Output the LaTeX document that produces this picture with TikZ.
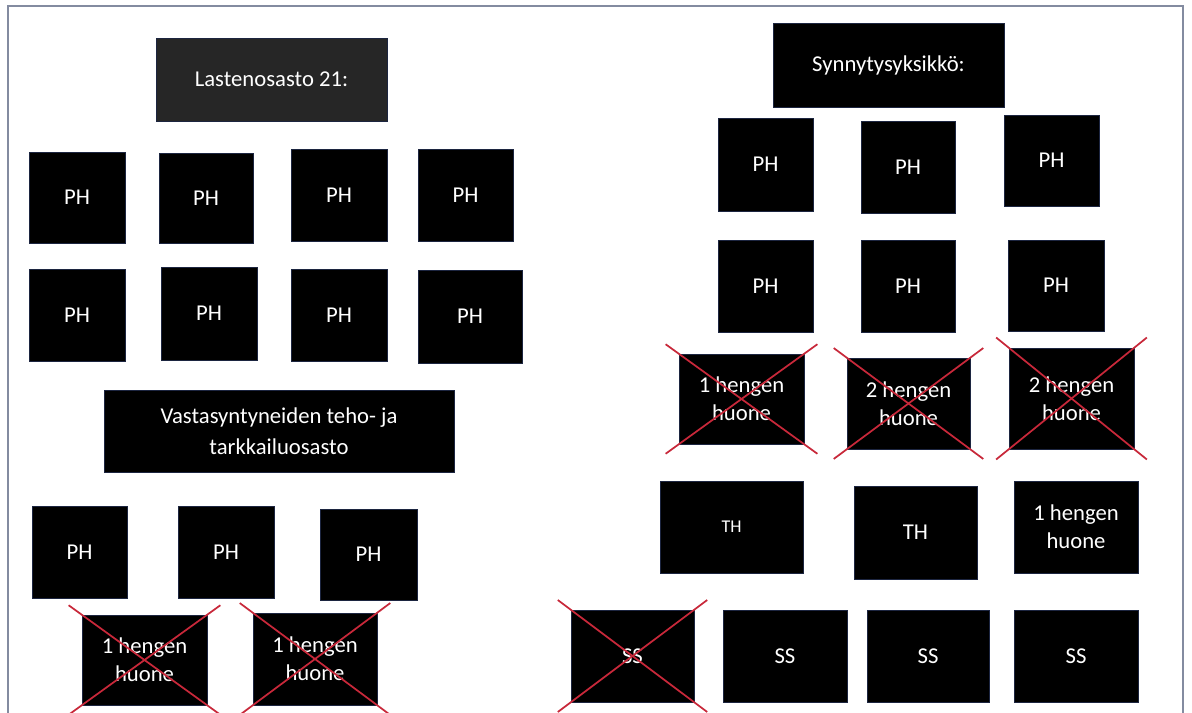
\documentclass[tikz,border=0pt]{standalone}
\usepackage{fontspec}
\setmainfont{Carlito}
\definecolor{framecol}{HTML}{838BA0}
\definecolor{boxedge}{HTML}{1C2540}
\definecolor{hdrgray}{HTML}{262626}
\definecolor{xred}{HTML}{C8283A}
\tikzset{
  room/.style={draw=boxedge, line width=0.6pt, fill=black, text=white, inner sep=0pt,
    align=center, font=\fontsize{17}{21}\selectfont},
  xline/.style={draw=xred, line width=1.3pt, shorten <=-12pt, shorten >=-12pt},
  framepath/.style={draw=framecol, line width=1.2pt}
}
\newcommand\roombox[7][]{%
  \pgfmathsetmacro\rbcx{(#3+#5)/2}\pgfmathsetmacro\rbcy{(#4+#6)/2}%
  \pgfmathsetmacro\rbww{(#5-#3)*0.75}\pgfmathsetmacro\rbhh{(#6-#4)*0.75}%
  \node[room, minimum width=\rbww pt, minimum height=\rbhh pt, #1] (#2) at (\rbcx,\rbcy) {#7};}
\newcommand\crossbox[1]{%
  \draw[xline] (#1.north west) -- (#1.south east);
  \draw[xline] (#1.north east) -- (#1.south west);}
\begin{document}
\begin{tikzpicture}[x=0.75pt, y=-0.75pt]
\useasboundingbox (0,0) rectangle (1192,713);
\clip (0,0) rectangle (1192,713);
\fill[white] (0,0) rectangle (1192,713);
\draw[framepath] (8,713) -- (8,6) -- (1183,6) -- (1183,713);

% ---- Lastenosasto 21
\roombox[fill=hdrgray]{LH}{156}{38}{387}{121}{Lastenosasto 21:}
\roombox{L11}{29}{152}{125}{243}{PH}
\roombox{L12}{159}{153}{253}{243}{PH}
\roombox{L13}{291}{149}{387}{241}{PH}
\roombox{L14}{418}{149}{513}{241}{PH}
\roombox{L21}{29}{269}{125}{361}{PH}
\roombox{L22}{161}{267}{257}{360}{PH}
\roombox{L23}{291}{269}{387}{361}{PH}
\roombox{L24}{418}{270}{522}{363}{PH}

% ---- Vastasyntyneiden teho- ja tarkkailuosasto
\roombox[font=\fontsize{17}{23}\selectfont]{VH}{104}{390}{454}{472}{Vastasyntyneiden teho- ja\\tarkkailuosasto}
\roombox{V1}{32}{506}{127}{598}{PH}
\roombox{V2}{178}{506}{274}{598}{PH}
\roombox{V3}{320}{509}{417}{600}{PH}
\roombox{VX1}{82}{615}{207}{705}{1 hengen\\huone}
\roombox{VX2}{253}{613}{377}{705}{1 hengen\\huone}

% ---- Synnytysyksikkö
\roombox{SH}{773}{23}{1004}{107}{Synnytysyksikkö:}
\roombox{S11}{718}{118}{813}{211}{PH}
\roombox{S12}{861}{121}{955}{213}{PH}
\roombox{S13}{1004}{115}{1099}{206}{PH}
\roombox{S21}{718}{240}{813}{332}{PH}
\roombox{S22}{861}{240}{955}{332}{PH}
\roombox{S23}{1008}{240}{1104}{331}{PH}
\roombox{SX1}{679}{354}{804}{444}{1 hengen\\huone}
\roombox{SX2}{847}{358}{970}{449}{2 hengen\\huone}
\roombox{SX3}{1009}{348}{1134}{449}{2 hengen\\huone}
\roombox[font=\fontsize{13.5}{16}\selectfont]{T1}{660}{481}{803}{573}{TH}
\roombox{T2}{854}{486}{977}{579}{TH}
\roombox{T3}{1014}{481}{1138}{573}{1 hengen\\huone}
\roombox{SS1}{571}{610}{694}{702}{SS}
\roombox{SS2}{723}{610}{847}{702}{SS}
\roombox{SS3}{867}{610}{989}{702}{SS}
\roombox{SS4}{1014}{610}{1138}{702}{SS}

% ---- crossed-out rooms
\crossbox{VX1}
\crossbox{VX2}
\crossbox{SX1}
\crossbox{SX2}
\crossbox{SX3}
\crossbox{SS1}
\end{tikzpicture}
\end{document}
